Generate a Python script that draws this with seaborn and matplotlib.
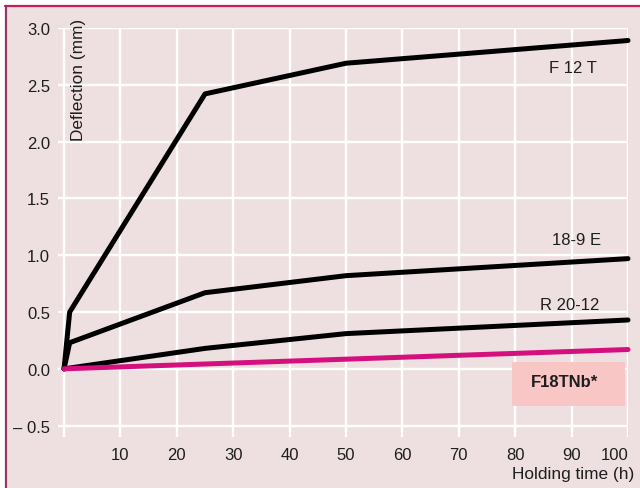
import matplotlib
matplotlib.use("Agg")
import matplotlib.pyplot as plt
import matplotlib.patches as mpatches
import matplotlib.lines as mlines
import pandas as pd
import seaborn as sns

# Deflection vs holding time for four grades
hours_f12t = [0, 1, 25, 50, 100]
defl_f12t = [0.0, 0.50, 2.42, 2.69, 2.89]

hours_189e = [0, 1, 25, 50, 100]
defl_189e = [0.0, 0.23, 0.67, 0.82, 0.97]

hours_r2012 = [0, 25, 50, 100]
defl_r2012 = [0.0, 0.18, 0.31, 0.43]

hours_f18tnb = [0, 100]
defl_f18tnb = [0.0, 0.17]

series_names = ["F 12 T", "18-9 E", "R 20-12", "F18TNb*"]
x_ticks = [0, 10, 20, 30, 40, 50, 60, 70, 80, 90, 100]
x_tick_labels = ["", "10", "20", "30", "40", "50", "60", "70", "80", "90", "100"]
y_ticks = [-0.5, 0.0, 0.5, 1.0, 1.5, 2.0, 2.5, 3.0]
y_tick_labels = ["\u2013 0.5", "0.0", "0.5", "1.0", "1.5", "2.0", "2.5", "3.0"]

frames = []
for name, xs, ys in zip(series_names,
                        [hours_f12t, hours_189e, hours_r2012, hours_f18tnb],
                        [defl_f12t, defl_189e, defl_r2012, defl_f18tnb]):
    frames.append(pd.DataFrame({"grade": name, "hours": xs, "deflection": ys}))
df = pd.concat(frames, ignore_index=True)

BG = "#eee0e0"
MAGENTA = "#d4107e"
TEXT = "#1e1e1e"
FS = 12

sns.set_theme(style="darkgrid", rc={
    "axes.facecolor": BG,
    "figure.facecolor": BG,
    "grid.color": "white",
    "grid.linewidth": 1.7,
})
plt.rcParams["font.family"] = ["Liberation Sans", "DejaVu Sans"]

fig = plt.figure(figsize=(6.4, 4.89), dpi=100)
fig.patch.set_facecolor("white")
# pink panel with crimson top edge and purple left edge
fig.patches.append(mpatches.Rectangle((6 / 640, 0), 1, (489 - 7) / 489,
                                      transform=fig.transFigure, facecolor=BG,
                                      edgecolor="none", zorder=-10))
fig.lines.append(mlines.Line2D([5 / 640, 1], [(489 - 7) / 489] * 2,
                               transform=fig.transFigure, color="#c81e52", lw=1.6))
fig.lines.append(mlines.Line2D([6 / 640] * 2, [0, (489 - 7) / 489],
                               transform=fig.transFigure, color="#8e3a6a", lw=1.6))

ax = fig.add_axes([58.4 / 640, (489 - 438) / 489, (628 - 58.4) / 640, (438 - 29) / 489])
ax.set_facecolor(BG)
ax.set_zorder(1)

palette = {"F 12 T": "black", "18-9 E": "black", "R 20-12": "black", "F18TNb*": MAGENTA}
sns.lineplot(data=df, x="hours", y="deflection", hue="grade", palette=palette,
             units="grade", estimator=None, sort=False, legend=False,
             linewidth=3.6, ax=ax, zorder=3)
for line in ax.lines:
    line.set_solid_joinstyle("round")
    line.set_solid_capstyle("round")
    line.set_clip_on(False)

ax.set_xlim(-1, 100)
ax.set_ylim(-0.6, 3.0)
ax.set_xticks(x_ticks)
ax.set_xticklabels(x_tick_labels)
ax.set_yticks(y_ticks)
ax.set_yticklabels(y_tick_labels)
ax.tick_params(axis="both", length=0, labelsize=FS, labelcolor=TEXT)
ax.tick_params(axis="x", pad=7)
ax.tick_params(axis="y", pad=6)
ax.get_xticklabels()[-1].set_horizontalalignment("right")
ax.set_xlabel("")
ax.set_ylabel("")
for s in ax.spines.values():
    s.set_visible(False)

ax.text(90.3, 2.65, "F 12 T", ha="center", va="center", fontsize=FS, color=TEXT)
ax.text(90.8, 1.14, "18-9 E", ha="center", va="center", fontsize=FS, color=TEXT)
ax.text(89.7, 0.57, "R 20-12", ha="center", va="center", fontsize=FS, color=TEXT)
ax.add_patch(mpatches.Rectangle((79.4, -0.325), 20.1, 0.385, facecolor="#f9c6c6",
                                edgecolor="none", zorder=2))
ax.text(88.7, -0.115, "F18TNb*", ha="center", va="center", fontsize=12,
        fontweight="bold", color=TEXT, zorder=4)

fig.text(79 / 640, (489 - 19) / 489, "Deflection (mm)", rotation=90, ha="center",
         va="top", fontsize=12.4, color=TEXT, zorder=5)
fig.text(634 / 640, (489 - 475) / 489, "Holding time (h)", ha="right", va="center",
         fontsize=12.4, color=TEXT)

fig.savefig("out.png", dpi=100)
